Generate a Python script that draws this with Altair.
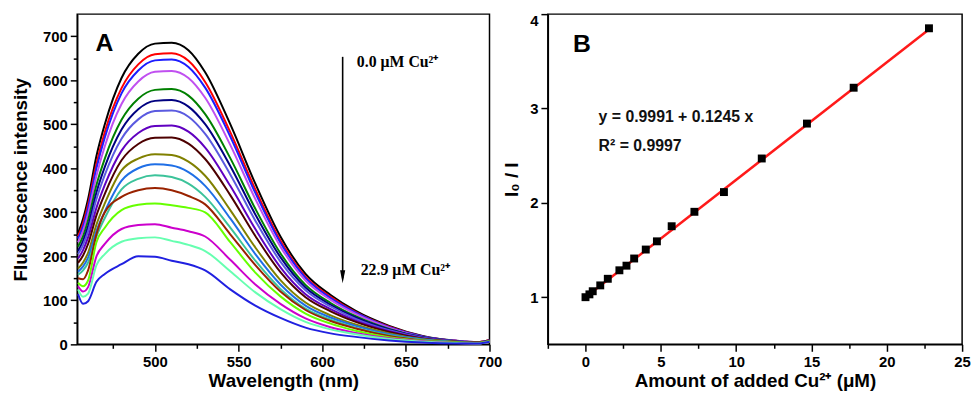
import altair as alt
import pandas as pd

# ---------------- data ----------------
wavelength_nm = [454, 457, 460, 465, 470, 480, 490, 500, 510, 520, 530, 545,
                 560, 575, 590, 605, 620, 640, 660, 680, 693, 700]

curve_00 = [252, 285, 330, 428, 500, 605, 660, 683, 685, 668, 618, 500, 365, 245, 160, 112, 76, 42, 19, 8, 5, 10]
curve_01 = [245, 275, 318, 410, 482, 582, 636, 659, 661, 644, 596, 482, 352, 236, 154, 108, 73, 40, 18, 8, 5, 10]
curve_02 = [240, 268, 310, 400, 470, 570, 622, 645, 647, 630, 583, 472, 344, 231, 151, 105, 72, 39, 18, 8, 5, 9]
curve_03 = [232, 258, 297, 383, 450, 546, 597, 619, 621, 605, 560, 453, 330, 222, 145, 101, 69, 38, 17, 8, 5, 9]
curve_04 = [222, 246, 282, 362, 422, 510, 558, 578, 580, 565, 523, 423, 308, 207, 135, 94, 64, 35, 16, 7, 4, 9]
curve_05 = [212, 235, 268, 345, 403, 488, 534, 553, 555, 540, 500, 405, 295, 198, 129, 90, 61, 34, 16, 7, 4, 9]
curve_06 = [205, 226, 257, 330, 385, 467, 511, 530, 531, 517, 478, 386, 281, 188, 123, 86, 58, 32, 15, 7, 4, 8]
curve_07 = [195, 214, 243, 310, 362, 440, 480, 496, 497, 483, 447, 360, 262, 175, 114, 80, 54, 30, 14, 7, 4, 8]
curve_08 = [185, 202, 228, 293, 342, 418, 455, 469, 470, 456, 421, 339, 246, 164, 107, 75, 51, 28, 13, 6, 4, 8]
curve_09 = [172, 186, 208, 272, 320, 395, 422, 432, 430, 415, 383, 305, 220, 146, 95, 66, 45, 25, 12, 6, 4, 8]
curve_10 = [165, 177, 197, 258, 302, 372, 400, 409, 406, 391, 360, 286, 205, 136, 88, 61, 42, 23, 11, 5, 3, 7]
curve_11 = [158, 168, 186, 245, 287, 352, 376, 384, 380, 365, 335, 265, 190, 126, 81, 56, 38, 21, 10, 5, 3, 7]
curve_12 = [150, 148, 168, 250, 300, 335, 350, 355, 350, 337, 318, 250, 180, 120, 78, 53, 36, 19, 9, 4, 3, 7]
curve_13 = [140, 132, 145, 232, 265, 305, 317, 320, 316, 310, 300, 232, 163, 109, 70, 47, 31, 16, 8, 4, 3, 7]
curve_14 = [132, 120, 130, 200, 228, 262, 271, 273, 265, 257, 245, 192, 136, 92, 59, 39, 26, 14, 7, 3, 2, 6]
curve_15 = [125, 108, 115, 180, 205, 233, 241, 243, 235, 226, 212, 166, 118, 80, 51, 34, 23, 12, 6, 3, 2, 6]
curve_16 = [114, 92, 98, 142, 160, 182, 200, 199, 190, 182, 168, 125, 88, 60, 38, 25, 17, 9, 4, 2, 2, 6]

curve_colors = ["#000000", "#ff0000", "#1c1cff", "#c050f0", "#008000", "#000080",
                "#5a5ae0", "#6000c0", "#4d0000", "#808000", "#1f6fe6", "#3cc39a",
                "#992200", "#66ff00", "#cc00cc", "#66ffb0", "#2020e0"]

cu_added_uM = [0, 0.26, 0.48, 0.98, 1.48, 2.25, 2.72, 3.23, 4.0, 4.74, 5.72,
               7.23, 9.19, 11.7, 14.7, 17.8, 22.8]
i0_over_i = [1.0, 1.03, 1.063, 1.125, 1.195, 1.285, 1.334, 1.41, 1.505, 1.592,
             1.752, 1.905, 2.114, 2.47, 2.84, 3.22, 3.85]

fit_intercept = 0.9991
fit_slope = 0.1245
fit_range_uM = [0.0, 22.9]

a_x_ticks = [475, 500, 525, 550, 575, 600, 625, 650, 675, 700]
a_y_ticks = [0, 50, 100, 150, 200, 250, 300, 350, 400, 450, 500, 550, 600, 650, 700]
b_x_ticks = [-2.5, 0, 2.5, 5, 7.5, 10, 12.5, 15, 17.5, 20, 22.5, 25]
b_y_ticks = [1, 1.5, 2, 2.5, 3, 3.5, 4]

# ---------------- tables ----------------
curves = [curve_00, curve_01, curve_02, curve_03, curve_04, curve_05, curve_06,
          curve_07, curve_08, curve_09, curve_10, curve_11, curve_12, curve_13,
          curve_14, curve_15, curve_16]
curve_ids = [f"c{i:02d}" for i in range(len(curves))]

spec_df = pd.DataFrame(
    [{"wl": w, "I": v, "curve": cid}
     for cid, vals in zip(curve_ids, curves)
     for w, v in zip(wavelength_nm, vals)]
)

W_A, W_B, H = 417, 419, 334
SANS = "Liberation Sans"
SERIF = "Liberation Serif"


def minor_size(test):
    return {"condition": {"test": test, "value": 7}, "value": 4}


# ---------------- panel A ----------------
xA = alt.X("wl:Q", scale=alt.Scale(domain=[453.5, 700], nice=False, zero=False),
           axis=alt.Axis(values=a_x_ticks, format="d",
                         labelExpr="datum.value % 50 === 0 ? datum.label : ''",
                         tickSize=minor_size("datum.value % 50 === 0"),
                         labelFlush=False, labelPadding=3,
                         title="Wavelength (nm)", titlePadding=3))
yA = alt.Y("I:Q", scale=alt.Scale(domain=[0, 750], nice=False),
           axis=alt.Axis(values=a_y_ticks, format="d",
                         labelExpr="datum.value % 100 === 0 ? datum.label : ''",
                         tickSize=minor_size("datum.value % 100 === 0"),
                         labelPadding=3,
                         title="Fluorescence intensity", titlePadding=12))

lines = alt.Chart(spec_df).mark_line(strokeWidth=2, interpolate="monotone").encode(
    x=xA, y=yA,
    color=alt.Color("curve:N", scale=alt.Scale(domain=curve_ids, range=curve_colors), legend=None),
)

arrow_df = pd.DataFrame({"wl": [612.2], "I": [653], "I2": [150]})
arrow_line = alt.Chart(arrow_df).mark_rule(color="black", strokeWidth=1.6).encode(
    x=xA, y=yA, y2="I2:Q")
head_df = pd.DataFrame({"wl": [612.2], "I": [153.6]})
arrow_head = alt.Chart(head_df).mark_point(
    shape="M-0.4,-1L0.4,-1L0,1Z", size=169, filled=True, color="black", opacity=1
).encode(x=xA, y=yA)

lab_df = pd.DataFrame({"wl": [620.7, 623.0], "I": [630, 157],
                       "t": ["0.0 μM Cu²⁺", "22.9 μM Cu²⁺"]})
labels_a = alt.Chart(lab_df).mark_text(
    font=SERIF, fontSize=16, fontWeight="bold", align="left", baseline="alphabetic", color="black"
).encode(x=xA, y=yA, text="t:N")

tag_a_df = pd.DataFrame({"wl": [464.5], "I": [666], "t": ["A"]})
tag_a = alt.Chart(tag_a_df).mark_text(
    font=SANS, fontSize=25, fontWeight="bold", align="left", baseline="alphabetic", color="black"
).encode(x=xA, y=yA, text="t:N")

panel_a = alt.layer(lines, arrow_line, arrow_head, labels_a, tag_a).properties(width=W_A, height=H)

# ---------------- panel B ----------------
xB = alt.X("cu:Q", scale=alt.Scale(domain=[-2.5, 25], nice=False, zero=False),
           axis=alt.Axis(values=b_x_ticks, format="d",
                         labelExpr="datum.value % 5 === 0 ? datum.label : ''",
                         tickSize=minor_size("datum.value % 5 === 0"),
                         labelFlush=False, labelPadding=3,
                         title="Amount of added Cu²⁺ (μM)", titlePadding=3))
yB = alt.Y("r:Q", scale=alt.Scale(domain=[0.5, 4], nice=False, zero=False),
           axis=alt.Axis(values=b_y_ticks, format="d",
                         labelExpr="datum.value % 1 === 0 ? datum.label : ''",
                         tickSize=minor_size("datum.value % 1 === 0"),
                         labelFlush=True, labelPadding=3,
                         title="I₀ / I", titlePadding=8))

pts_df = pd.DataFrame({"cu": cu_added_uM, "r": i0_over_i})
fit_df = pd.DataFrame({"cu": fit_range_uM,
                       "r": [fit_intercept + fit_slope * v for v in fit_range_uM]})

points = alt.Chart(pts_df).mark_square(size=64, color="black", opacity=1).encode(x=xB, y=yB)
fit = alt.Chart(fit_df).mark_line(color="#ff1a1a", strokeWidth=2.5).encode(x=xB, y=yB)

eq_df = pd.DataFrame({"cu": [0.87, 0.87], "r": [2.86, 2.55],
                      "t": ["y = 0.9991 + 0.1245 x", "R² = 0.9997"]})
eq_text = alt.Chart(eq_df).mark_text(
    font=SANS, fontSize=16, fontWeight="bold", align="left", baseline="alphabetic", color="#111111"
).encode(x=xB, y=yB, text="t:N")

tag_b_df = pd.DataFrame({"cu": [-0.83], "r": [3.60], "t": ["B"]})
tag_b = alt.Chart(tag_b_df).mark_text(
    font=SANS, fontSize=25, fontWeight="bold", align="left", baseline="alphabetic", color="black"
).encode(x=xB, y=yB, text="t:N")

panel_b = alt.layer(fit, points, eq_text, tag_b).properties(width=W_B, height=H)

chart = alt.hconcat(panel_a, panel_b, spacing=59, bounds="flush").properties(
    padding={"left": 3, "top": 2, "right": 0, "bottom": 0},
    background="white",
).configure_view(
    stroke="black", strokeWidth=1.5
).configure_axis(
    grid=False,
    domainColor="black", domainWidth=1.5,
    tickColor="black", tickWidth=1.5,
    labelFont=SANS, labelFontSize=15, labelFontWeight="bold", labelColor="black",
    titleFont=SANS, titleFontSize=19, titleFontWeight="bold", titleColor="black",
)

chart.save("out.html", embed_options={"renderer": "svg", "actions": False})
